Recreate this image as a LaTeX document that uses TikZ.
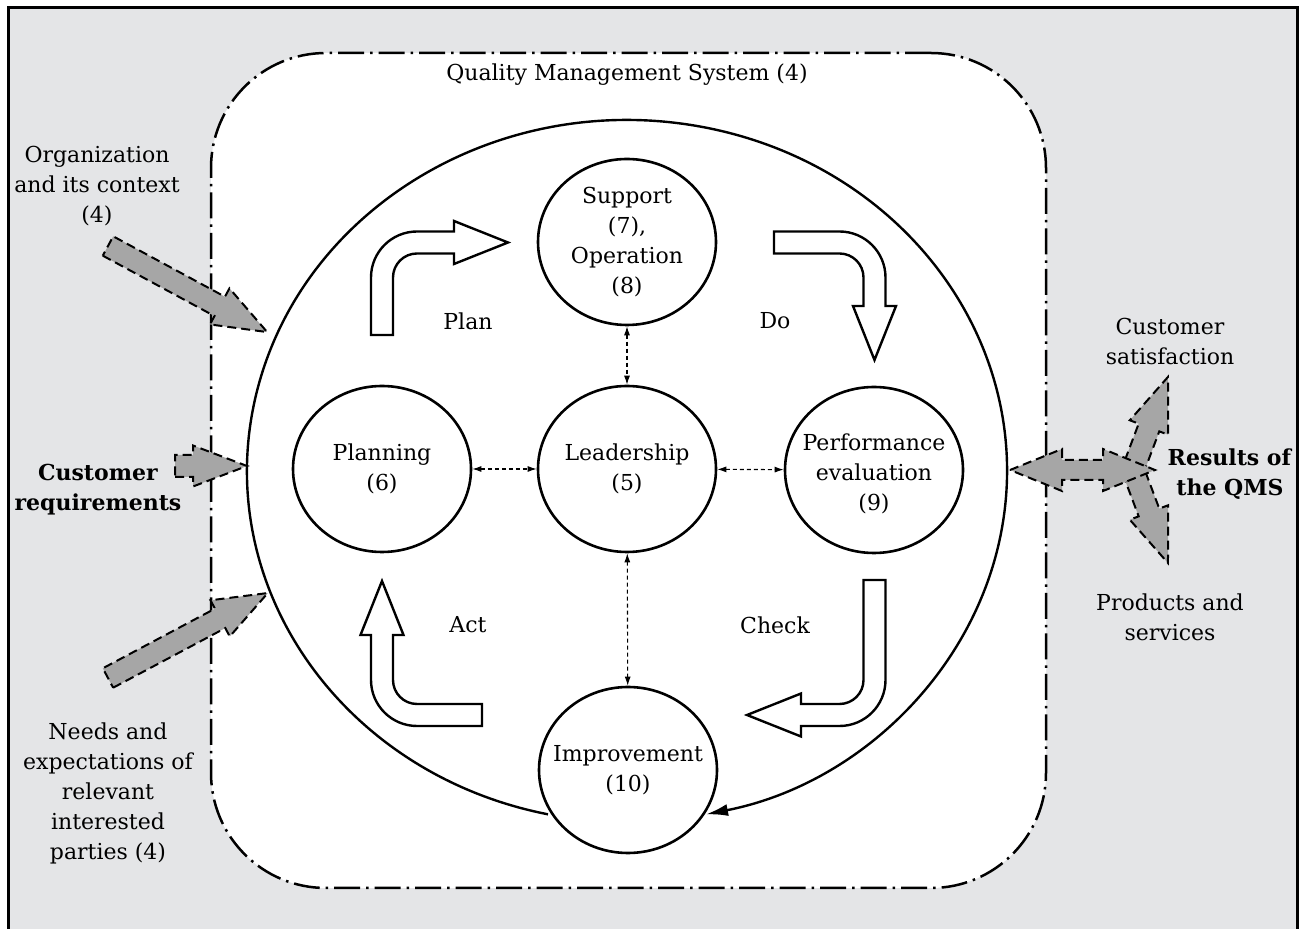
\documentclass[tikz,border=0pt]{standalone}
\usepackage{fontspec}
\setmainfont{DejaVu Serif}
\usetikzlibrary{shapes.geometric,arrows.meta}
\definecolor{panel-gray}{RGB}{228,229,231}
\definecolor{arrow-gray}{RGB}{166,166,166}
\tikzset{
    every node/.style = {font=\fontsize{22}{30}\selectfont, align=center},
    qms-box/.style = {draw, fill=white, rectangle, rounded corners=115pt, line width=2.5pt, dash pattern=on 26pt off 6pt on 2.5pt off 6pt, minimum width=835pt, minimum height=835pt},
    pdca-circle/.style = {draw, ellipse, line width=2.6pt, minimum width=178pt, minimum height=166pt, inner sep=0pt},
    hollow-arrow/.style = {draw, fill=white, line width=2.4pt},
    input-arrow/.style = {draw, fill=arrow-gray, line width=2pt, dash pattern=on 9pt off 5pt},
    link/.style = {line width=1.1pt, dash pattern=on 4pt off 3pt, {Latex[length=9pt,width=6pt]}-{Latex[length=9pt,width=6pt]}},
}
% corner, rotation, stem length, tip distance
\newcommand{\hollowarrow}[4]{%
    \draw[hollow-arrow, shift={#1}, rotate=#2]
        (-11,-#3) -- (-11,-35) arc[start angle=180, end angle=90, radius=46]
        -- ({#4-54},11) -- ({#4-54},21.5) -- (#4,0) -- ({#4-54},-21.5)
        -- ({#4-54},-11) -- (35,-11) arc[start angle=90, end angle=180, radius=24]
        -- (11,-#3) -- cycle;
}
% tail, angle, length
\newcommand{\inputarrow}[3]{%
    \draw[input-arrow, shift={#1}, rotate=#2]
        (0,-11) -- ({#3-54},-11) -- ({#3-54},-20.5) -- (#3,0)
        -- ({#3-54},20.5) -- ({#3-54},11) -- (0,11) -- cycle;
}

\begin{document}
\begin{tikzpicture}[x=1pt, y=1pt]
\useasboundingbox (0,0) rectangle (1304,929);
\draw[line width=3pt, fill=panel-gray] (8.5,-20) rectangle (1297.5,921);

% the QMS frame
\node[qms-box] (qms) at (628.5,458.5) {};
\node (qms-title) at (627,854) {Quality Management System (4)};

% the cycle
\coordinate (hub) at (627,458);
\draw[line width=2.4pt, -{Latex[length=22pt,width=12pt]}] (hub) ++(258:380 and 351)
    arc[start angle=258, end angle=-78, x radius=380, y radius=351];

\node[pdca-circle] (support) at (627,687) {};
\node[pdca-circle] (leadership) at (627,460) {};
\node[pdca-circle] (planning) at (382,460) {};
\node[pdca-circle] (perf) at (874,459) {};
\node[pdca-circle] (improvement) at (628,159) {};
\node at (support) {Support\\(7),\\Operation\\(8)};
\node at (leadership) {Leadership\\(5)};
\node at (planning) {Planning\\(6)};
\node at ([yshift=-4pt]perf) {Performance\\evaluation\\(9)};
\node at (improvement) {Improvement\\(10)};

\draw[link] (support) -- (leadership);
\draw[link] (leadership) -- (improvement);
\draw[link] (planning) -- (leadership);
\draw[link] (leadership) -- (perf);

% Plan, Do, Check, Act
\hollowarrow{(382,686.5)}{0}{92.5}{126}
\hollowarrow{(874.5,686.5)}{-90}{100.5}{117.5}
\hollowarrow{(874.5,214)}{180}{135}{127.5}
\hollowarrow{(382,214)}{90}{100}{134}
\node (plan) at (468,608) {Plan};
\node (do) at (775,608) {Do};
\node (check) at (775,304) {Check};
\node (act) at (468,304) {Act};

% inputs
\inputarrow{(108,683)}{-28.4}{181}
\inputarrow{(175,463)}{0}{72}
\inputarrow{(108,251)}{28}{181}
\node (context) at (97,743) {Organization\\and its context\\(4)};
\node (requirements) at (98,439) {\textbf{Customer}\\\textbf{requirements}};
\node (needs) at (108,136) {Needs and\\expectations of\\relevant\\interested\\parties (4)};

% results
\inputarrow{(1133,459)}{69.4}{99.4}
\inputarrow{(1133,459)}{-69.4}{99.4}
\draw[input-arrow] (1010,459) -- (1062,480) -- (1062,469) -- (1103,469) -- (1103,480)
    -- (1155,459) -- (1103,438) -- (1103,449) -- (1062,449) -- (1062,438) -- cycle;
\node (satisfaction) at (1170,588) {Customer\\satisfaction};
\node (results) at (1230,455) {\textbf{Results of}\\\textbf{the QMS}};
\node (products) at (1170,312) {Products and\\services};
\end{tikzpicture}
\end{document}
